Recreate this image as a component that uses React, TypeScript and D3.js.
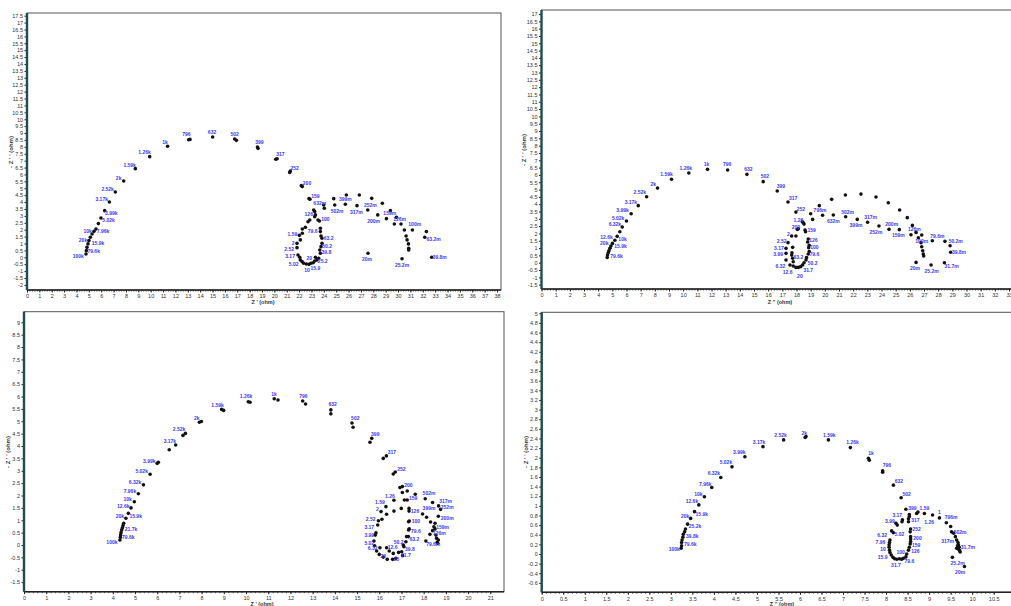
import React, { useRef, useEffect } from "react";
import { select, scaleLinear, axisBottom, axisLeft, range } from "d3";

// ---------- panel (a) top-left ----------
const aArc = [
  [4.77, 0.24], [4.8, 0.48], [4.85, 0.72], [4.93, 0.97], [5.01, 1.21], [5.12, 1.45], [5.26, 1.69],
  [5.42, 1.88], [5.58, 2.05], [5.77, 2.44], [5.98, 2.85], [6.28, 3.38], [6.66, 4.01], [7.14, 4.73],
  [7.82, 5.53], [8.76, 6.42], [9.92, 7.29], [11.37, 8.04], [13.07, 8.52], [13.18, 8.54], [15.01, 8.71],
  [16.79, 8.57], [16.93, 8.47], [18.63, 7.99], [18.68, 7.89], [20.11, 7.1], [20.22, 7.14], [21.24, 6.15],
  [21.29, 6.25], [22.18, 5.19], [22.26, 5.12], [22.8, 4.25], [22.88, 4.2],
];
const aLoop = [
  [23.18, 3.43], [23.26, 3.31], [23.32, 3.07], [23.26, 2.94], [23.53, 2.7], [23.64, 2.63], [23.72, 2.1],
  [23.72, 1.86], [23.77, 1.54], [23.85, 1.38], [23.85, 1.01], [23.77, 0.77], [23.67, 0.53], [23.72, 0.29],
  [23.58, -0.07], [23.45, -0.19], [23.32, 0.0], [23.26, -0.27], [23.13, -0.39], [22.96, -0.43], [22.8, -0.51],
  [22.59, -0.48], [22.37, -0.43], [22.24, -0.31], [22.1, -0.19], [22.05, 0.0], [21.91, 0.17], [21.83, 0.7],
  [21.83, 1.01], [22.1, 1.26], [22.02, 1.59], [22.26, 1.74], [22.26, 2.05], [22.51, 2.17], [22.72, 2.58],
  [22.86, 2.7], [23.99, 3.79], [24.04, 3.55],
];
const aTail = [
  [24.8, 4.25], [24.88, 3.79], [25.74, 3.84], [25.82, 4.51], [26.68, 3.74], [26.87, 4.51], [27.55, 3.43],
  [27.87, 4.27], [28.36, 3.07], [28.73, 3.91], [29.06, 2.8], [29.38, 3.38], [29.7, 2.41], [29.87, 2.9],
  [30.24, 2.41], [30.51, 1.98], [30.65, 1.54], [30.73, 1.26], [30.84, 0.97], [30.86, 0.65], [30.86, 0.53],
  [31.16, 1.98], [32.29, 1.86], [32.16, 1.45], [32.72, 0.0], [27.57, 0.29], [30.32, -0.1],
];
const aTags = [
  ["100k", 4.15, 0.05], ["79.6k", 5.39, 0.41], ["15.9k", 5.74, 1.01], ["20k", 4.53, 1.26], ["10k", 4.91, 1.88],
  ["7.96k", 6.15, 1.88], ["5.02k", 6.6, 2.68], ["3.99k", 6.82, 3.19], ["3.17k", 6.04, 4.2], ["2.52k", 6.52, 4.9],
  ["2k", 7.41, 5.72], ["1.59k", 8.3, 6.66], ["1.26k", 9.51, 7.58], ["1k", 11.16, 8.33], ["796", 12.88, 8.91],
  ["632", 14.96, 9.05], ["502", 16.79, 8.91], ["399", 18.79, 8.33], ["317", 20.49, 7.46], ["252", 21.64, 6.44],
  ["200", 22.64, 5.36], ["159", 23.32, 4.39], ["632m", 23.67, 3.91], ["126", 22.78, 3.11], ["100", 24.12, 2.75],
  ["79.6", 23.1, 1.91], ["63.2", 24.39, 1.38], ["50.2", 24.26, 0.77], ["39.8", 24.2, 0.36], ["25.2", 23.91, -0.31],
  ["20", 22.83, -0.07], ["15.9", 23.32, -0.8], ["10", 22.64, -0.92], ["5.02", 21.56, -0.51], ["3.17", 21.27, 0.05],
  ["2.52", 21.19, 0.58], ["2", 21.51, 1.01], ["1.59", 21.46, 1.67], ["502m", 25.07, 3.31], ["399m", 25.74, 4.2],
  ["317m", 26.63, 3.26], ["252m", 27.76, 3.79], ["200m", 28.03, 2.61], ["159m", 29.33, 3.19], ["126m", 30.13, 2.75],
  ["100m", 31.35, 2.39], ["63.2m", 32.88, 1.3], ["39.8m", 33.37, -0.02], ["20m", 27.49, -0.14], ["25.2m", 30.32, -0.6],
];

// ---------- panel (b) top-right ----------
const bArc = [
  [4.64, 0.36], [4.66, 0.52], [4.71, 0.68], [4.76, 0.82], [4.83, 0.98], [4.9, 1.14], [5.01, 1.32],
  [5.18, 1.53], [5.34, 1.8], [5.53, 2.12], [5.7, 2.44], [6.0, 2.85], [6.33, 3.35], [6.83, 3.9],
  [7.42, 4.51], [8.19, 5.1], [9.18, 5.7], [10.4, 6.13], [11.72, 6.38], [13.14, 6.34], [14.5, 6.04],
  [15.65, 5.54], [16.64, 4.9], [17.4, 4.15], [17.96, 3.46],
];
const bLoop = [
  [18.41, 2.8], [18.48, 2.73], [18.53, 2.64], [19.14, 2.96], [18.06, 2.28], [18.13, 2.32], [18.6, 2.23],
  [18.64, 2.12], [17.66, 1.82], [17.96, 1.82], [18.83, 1.62], [18.79, 1.41], [17.4, 1.37], [18.9, 1.19],
  [18.86, 1.03], [17.73, 1.05], [17.26, 0.98], [18.9, 0.77], [18.83, 0.59], [17.68, 0.68], [17.66, 0.52],
  [17.26, 0.64], [18.71, 0.36], [18.67, 0.18], [17.73, 0.3], [17.77, 0.07], [17.26, 0.18], [18.53, 0.0],
  [18.43, -0.16], [17.54, -0.16], [17.77, -0.23], [17.96, -0.32], [18.13, -0.32], [18.29, -0.27],
];
const bTail = [
  [19.0, 3.35], [19.61, 3.9], [20.48, 4.33], [21.45, 4.63], [22.55, 4.69], [23.61, 4.49], [24.48, 4.1],
  [25.28, 3.6], [25.82, 3.08], [26.18, 2.55], [26.44, 2.07], [26.6, 1.71], [26.79, 1.37], [26.84, 1.09],
  [26.91, 0.82], [26.95, 0.59], [26.98, 0.46], [19.84, 3.24], [20.6, 3.26], [21.47, 3.14], [22.29, 2.96],
  [23.02, 2.76], [23.82, 2.51], [24.53, 2.28], [25.26, 2.26], [26.08, 1.91], [26.84, 1.89], [27.59, 1.5],
  [28.48, 1.46], [28.84, 1.16], [28.88, 0.71], [28.44, 0.0], [27.5, -0.16], [26.44, 0.02],
];
const bTags = [
  ["79.6k", 5.3, 0.46], ["15.9k", 5.58, 1.14], ["20k", 4.43, 1.32], ["10k", 5.72, 1.62], ["12.6k", 4.59, 1.73],
  ["6.32k", 5.18, 2.62], ["5.02k", 5.41, 3.03], ["3.99k", 5.72, 3.6], ["3.17k", 6.31, 4.12], ["2.52k", 6.94, 4.81],
  ["2k", 7.89, 5.38], ["1.59k", 8.83, 6.06], ["1.26k", 10.19, 6.47], ["1k", 11.65, 6.75], ["796", 13.11, 6.75],
  ["632", 14.6, 6.4], ["502", 15.77, 5.93], ["399", 16.9, 5.24], ["317", 17.77, 4.42], ["252", 18.31, 3.65],
  ["1.26", 18.13, 2.89], ["200", 17.96, 2.42], ["2", 17.42, 1.94], ["2.52", 16.95, 1.48], ["3.17", 16.76, 0.98],
  ["3.99", 16.71, 0.57], ["6.32", 16.86, -0.21], ["12.6", 17.37, -0.68], ["20", 18.24, -0.91], ["31.7", 18.83, -0.5],
  ["50.2", 19.14, -0.05], ["79.6", 19.26, 0.57], ["100", 19.26, 1.03], ["126", 19.19, 1.53], ["159", 19.07, 2.23],
  ["63.2", 18.13, 0.34], ["796m", 19.66, 3.58], ["632m", 20.6, 2.85], ["502m", 21.61, 3.44], ["399m", 22.2, 2.55],
  ["317m", 23.23, 3.1], ["252m", 23.61, 2.07], ["200m", 24.72, 2.62], ["159m", 25.19, 1.87], ["126m", 26.32, 2.28],
  ["100m", 26.84, 1.48], ["79.6m", 27.94, 1.82], ["50.2m", 29.24, 1.48], ["39.8m", 29.47, 0.71], ["31.7m", 28.95, -0.23],
  ["25.2m", 27.54, -0.57], ["20m", 26.37, -0.39],
];

// ---------- panel (c) bottom-left ----------
const cArc = [
  [4.32, 0.2], [4.34, 0.31], [4.35, 0.4], [4.37, 0.5], [4.4, 0.61], [4.43, 0.7], [4.46, 0.79], [4.49, 0.88],
  [4.59, 1.08], [4.7, 1.28], [4.82, 1.5], [4.97, 1.75], [5.15, 2.07], [5.38, 2.43], [5.68, 2.86], [6.0, 3.3],
  [6.05, 3.34], [6.54, 3.85], [6.83, 4.04], [7.16, 4.43], [7.27, 4.51], [7.9, 4.96], [7.99, 4.99], [8.9, 5.48],
  [8.99, 5.44], [10.1, 5.79], [10.18, 5.77], [11.27, 5.91], [11.44, 5.86], [12.55, 5.82], [12.68, 5.7],
  [13.82, 5.46], [13.82, 5.3], [14.77, 4.93], [14.82, 4.76], [15.58, 4.15], [15.66, 4.31], [16.18, 3.5],
  [16.32, 3.6], [16.63, 2.87], [16.72, 2.95], [16.93, 2.32], [17.04, 2.36],
];
const cLoop = [
  [17.26, 2.18], [17.04, 2.12], [16.66, 1.81], [17.13, 1.82], [17.26, 1.82], [16.3, 1.55], [16.99, 1.48],
  [17.34, 1.48], [17.34, 1.37], [16.08, 1.35], [16.66, 1.37], [16.33, 1.24], [16.12, 1.04], [15.96, 0.98],
  [17.35, 0.97], [17.32, 0.94], [15.93, 0.81], [17.35, 0.65], [17.32, 0.61], [15.85, 0.49], [15.82, 0.4],
  [17.23, 0.34], [17.31, 0.34], [15.76, 0.16], [17.2, 0.13], [15.79, -0.03], [17.08, 0.0], [17.11, -0.07],
  [16.03, -0.11], [15.88, -0.24], [16.33, -0.11], [16.45, -0.24], [16.0, -0.38], [16.18, -0.49], [16.36, -0.58],
  [16.6, -0.58], [16.75, -0.54], [16.63, -0.34], [16.87, -0.3], [17.01, -0.27], [17.05, -0.43],
];
const cTail = [
  [17.62, 2.05], [18.07, 1.87], [18.4, 1.72], [18.67, 1.58], [18.76, 1.44], [17.95, 1.25], [18.13, 1.12],
  [18.66, 1.16], [18.31, 0.93], [18.51, 0.88], [18.46, 0.74], [18.4, 0.58], [18.51, 0.65], [18.28, 0.43],
  [18.55, 0.4], [18.58, 0.27], [18.61, 0.11], [18.63, 0.07], [18.1, 0.16], [18.66, 0.2],
];
const cTags = [
  ["100k", 3.96, 0.13], ["79.6k", 4.7, 0.31], ["21.7k", 4.82, 0.63], ["20k", 4.32, 1.15], ["15.9k", 5.03, 1.16],
  ["12.6k", 4.47, 1.55], ["10k", 4.67, 1.85], ["7.96k", 4.77, 2.18], ["6.32k", 5.0, 2.53], ["5.02k", 5.3, 2.99],
  ["3.99k", 5.64, 3.4], ["3.17k", 6.57, 4.19], ["2.52k", 6.98, 4.68], ["2k", 7.78, 5.12], ["1.59k", 8.72, 5.66],
  ["1.26k", 10.0, 6.02], ["1k", 11.26, 6.09], ["796", 12.58, 6.02], ["632", 13.9, 5.69], ["502", 14.92, 5.12],
  ["399", 15.82, 4.47], ["317", 16.57, 3.76], ["252", 17.0, 3.06], ["200", 17.31, 2.43], ["159", 17.53, 1.89],
  ["1.26", 16.48, 1.95], ["1.59", 16.03, 1.72], ["2", 15.91, 1.44], ["126", 17.61, 1.35], ["2.52", 15.61, 1.04],
  ["100", 17.65, 0.94], ["3.17", 15.55, 0.71], ["79.6", 17.65, 0.54], ["3.99", 15.55, 0.4], ["63.2", 17.58, 0.23],
  ["50.2", 16.87, 0.13], ["5.02", 15.55, 0.09], ["6.32", 15.7, -0.15], ["12.6", 16.6, -0.09], ["39.8", 17.38, -0.18],
  ["31.7", 17.2, -0.4], ["20", 16.18, -0.44], ["25", 16.78, -0.58], ["502m", 18.24, 2.09], ["317m", 18.99, 1.78],
  ["399m", 18.24, 1.48], ["252m", 19.06, 1.52], ["200m", 19.06, 1.08], ["159m", 18.85, 0.71], ["126m", 18.7, 0.47],
  ["79.6m", 18.43, 0.03],
];

// ---------- panel (d) bottom-right ----------
const dArc = [
  [3.24, 0.12], [3.25, 0.17], [3.25, 0.24], [3.26, 0.29], [3.28, 0.35], [3.29, 0.41], [3.32, 0.46],
  [3.34, 0.52], [3.39, 0.62], [3.46, 0.74], [3.55, 0.88], [3.65, 1.02], [3.78, 1.19], [3.95, 1.38],
  [4.16, 1.59], [4.42, 1.81], [4.72, 2.02], [5.14, 2.23], [5.62, 2.37], [6.12, 2.42], [6.14, 2.44],
  [6.66, 2.37], [7.17, 2.21], [7.59, 1.99], [7.61, 1.95], [7.92, 1.73], [7.92, 1.7], [8.17, 1.43], [8.35, 1.17],
];
const dLoop = [
  [8.46, 0.93], [8.54, 0.82], [8.54, 0.78], [8.52, 0.73], [8.52, 0.67], [8.38, 0.71], [8.37, 0.67],
  [8.23, 0.64], [8.26, 0.6], [8.57, 0.52], [8.56, 0.46], [8.13, 0.48], [8.17, 0.44], [8.57, 0.36],
  [8.57, 0.31], [8.09, 0.29], [8.08, 0.24], [8.07, 0.19], [8.07, 0.14], [8.08, 0.08], [8.09, 0.03],
  [8.12, -0.02], [8.16, -0.07], [8.2, -0.1], [8.25, -0.11], [8.31, -0.1], [8.36, -0.11], [8.4, -0.09],
  [8.46, -0.06], [8.48, 0.0], [8.52, 0.08], [8.54, 0.14], [8.56, 0.21], [8.57, 0.26],
];
const dTail = [
  [8.71, 0.84], [8.74, 0.87], [8.89, 0.84], [9.08, 0.81], [9.24, 0.75], [9.4, 0.65], [9.5, 0.57],
  [9.52, 0.46], [9.57, 0.43], [9.61, 0.36], [9.64, 0.29], [9.67, 0.24], [9.68, 0.19], [9.7, 0.14],
  [9.68, 0.1], [9.64, 0.12], [9.71, 0.07], [9.72, 0.04], [9.66, 0.17], [9.54, -0.07], [9.82, -0.26],
];
const dTags = [
  ["100k", 3.08, 0.1], ["79.6k", 3.45, 0.21], ["39.8k", 3.5, 0.37], ["25.2k", 3.56, 0.58], ["20k", 3.33, 0.79],
  ["15.9k", 3.72, 0.82], ["12.6k", 3.49, 1.09], ["10k", 3.64, 1.24], ["7.96k", 3.8, 1.45], ["6.32k", 4.0, 1.68],
  ["5.02k", 4.28, 1.9], ["3.99k", 4.59, 2.11], ["3.17k", 5.05, 2.32], ["2.52k", 5.55, 2.47], ["2k", 6.1, 2.51],
  ["1.59k", 6.68, 2.47], ["1.26k", 7.22, 2.33], ["1k", 7.65, 2.09], ["796", 8.02, 1.84], ["632", 8.3, 1.52],
  ["502", 8.48, 1.24], ["399", 8.61, 0.95], ["1.59", 8.89, 0.95], ["1", 9.24, 0.87], ["796m", 9.51, 0.76],
  ["1.26", 9.0, 0.66], ["317", 8.68, 0.71], ["252", 8.71, 0.52], ["200", 8.73, 0.33], ["159", 8.7, 0.19],
  ["126", 8.68, 0.06], ["100", 8.34, 0.03], ["79.6", 8.54, -0.15], ["31.7", 8.23, -0.23], ["15.9", 7.92, -0.07],
  ["10", 7.93, 0.1], ["7.96", 7.87, 0.24], ["6.32", 7.91, 0.39], ["5.02", 8.31, 0.41], ["3.99", 8.09, 0.67],
  ["3.17", 8.26, 0.8], ["502m", 9.72, 0.45], ["317m", 9.43, 0.26], ["31.7m", 9.9, 0.14], ["25.2m", 9.66, -0.19],
  ["20m", 9.72, -0.38],
];

// tick values
const aXTicks = range(0, 39);
const aYTicks = range(-4, 36).map((i) => i * 0.5);
const bXTicks = range(0, 34);
const bYTicks = range(-3, 35).map((i) => i * 0.5);
const cXTicks = range(0, 22);
const cYTicks = range(-3, 19).map((i) => i * 0.5);
const dXTicks = range(0, 22).map((i) => i * 0.5);
const dYTicks = range(-3, 26).map((i) => i * 0.2);

const FONT = "'Liberation Sans', Arial, sans-serif";
const fmt = (d) => String(Math.round(d * 10) / 10);

const Panel = ({ cfg }) => {
  const gRef = useRef();

  useEffect(() => {
    const g = select(gRef.current);
    g.selectAll("*").remove();

    const x = scaleLinear().domain([0, cfg.xEnd]).range([cfg.left, cfg.xEndPx]);
    const y = scaleLinear().domain([0, cfg.yEnd]).range([cfg.yZeroPx, cfg.yEndPx]);

    // frame
    g.append("rect")
      .attr("x", cfg.left)
      .attr("y", cfg.top)
      .attr("width", cfg.right - cfg.left)
      .attr("height", cfg.bottom - cfg.top)
      .attr("fill", "#fff")
      .attr("stroke", "#555")
      .attr("stroke-width", 1);

    // minor ticks on x
    const step = cfg.xTicks[1] - cfg.xTicks[0];
    const minor = range(0, Math.round(cfg.xEnd / step) * 5 + 1).map((i) => (i * step) / 5);
    g.append("g")
      .attr("transform", `translate(0,${cfg.bottom})`)
      .call(axisBottom(x).tickValues(minor).tickSize(1.5).tickFormat(() => ""))
      .call((s) => s.select(".domain").remove())
      .call((s) => s.selectAll("line").attr("stroke", "#333").attr("stroke-width", 0.8));

    // x axis
    g.append("g")
      .attr("transform", `translate(0,${cfg.bottom})`)
      .call(axisBottom(x).tickValues(cfg.xTicks).tickSize(2.5).tickPadding(1.8).tickFormat(fmt))
      .call((s) => s.select(".domain").remove())
      .call((s) => s.selectAll("line").attr("stroke", "#222"))
      .call((s) =>
        s.selectAll("text").attr("font-size", 5.5).attr("font-family", FONT).attr("fill", "#333")
      );

    // y axis
    g.append("g")
      .attr("transform", `translate(${cfg.left},0)`)
      .call(axisLeft(y).tickValues(cfg.yTicks).tickSize(2.5).tickPadding(1.5).tickFormat(fmt))
      .call((s) => s.select(".domain").remove())
      .call((s) => s.selectAll("line").attr("stroke", "#222"))
      .call((s) =>
        s.selectAll("text").attr("font-size", 5.5).attr("font-family", FONT).attr("fill", "#333")
      );

    // axis lines
    g.append("line")
      .attr("x1", cfg.left).attr("x2", cfg.right)
      .attr("y1", cfg.bottom).attr("y2", cfg.bottom)
      .attr("stroke", "#222").attr("stroke-width", 1.6);
    g.append("line")
      .attr("x1", cfg.left).attr("x2", cfg.left)
      .attr("y1", cfg.top).attr("y2", cfg.bottom)
      .attr("stroke", "#1e4d4b").attr("stroke-width", 2.4);

    // axis titles
    g.append("text")
      .attr("x", cfg.xTitlePos[0]).attr("y", cfg.xTitlePos[1])
      .attr("text-anchor", "middle")
      .attr("font-size", 5.5).attr("font-weight", "bold").attr("font-family", FONT).attr("fill", "#333")
      .text(cfg.xTitle);
    g.append("text")
      .attr("transform", `translate(${cfg.yTitlePos[0]},${cfg.yTitlePos[1]}) rotate(-90)`)
      .attr("text-anchor", "middle")
      .attr("font-size", 6).attr("font-weight", "bold").attr("font-family", FONT).attr("fill", "#333")
      .text("- Z ' ' (ohm)");

    // points
    g.append("g")
      .selectAll("circle")
      .data(cfg.pts)
      .join("circle")
      .attr("cx", (d) => x(d[0]))
      .attr("cy", (d) => y(d[1]))
      .attr("r", 1.8)
      .attr("fill", "#111");

    // frequency tags
    g.append("g")
      .selectAll("text")
      .data(cfg.tags)
      .join("text")
      .attr("x", (d) => x(d[1]))
      .attr("y", (d) => y(d[2]))
      .attr("dy", "0.35em")
      .attr("text-anchor", "middle")
      .attr("font-size", 5)
      .attr("font-weight", "bold")
      .attr("font-family", FONT)
      .attr("fill", "#3a3af5")
      .text((d) => d[0]);
  }, [cfg]);

  return <g ref={gRef} />;
};

const panels = [
  {
    left: 27, right: 501, top: 13, bottom: 290,
    xEnd: 38, xEndPx: 497, yEnd: 17.5, yZeroPx: 257.3, yEndPx: 15.7,
    xTicks: aXTicks, yTicks: aYTicks,
    xTitle: "Z ' (ohm)", xTitlePos: [263, 304], yTitlePos: [13, 152],
    pts: [...aArc, ...aLoop, ...aTail], tags: aTags,
  },
  {
    left: 541.5, right: 1013, top: 10, bottom: 289,
    xEnd: 33, xEndPx: 1009, yEnd: 17, yZeroPx: 262.7, yEndPx: 14,
    xTicks: bXTicks, yTicks: bYTicks,
    xTitle: "Z '' (ohm)", xTitlePos: [780, 304], yTitlePos: [526, 150],
    pts: [...bArc, ...bLoop, ...bTail], tags: bTags,
  },
  {
    left: 24, right: 504, top: 311.7, bottom: 591.7,
    xEnd: 21, xEndPx: 490.3, yEnd: 9, yZeroPx: 545, yEndPx: 322.3,
    xTicks: cXTicks, yTicks: cYTicks,
    xTitle: "Z ' (ohm)", xTitlePos: [262, 606], yTitlePos: [10, 452],
    pts: [...cArc, ...cLoop, ...cTail], tags: cTags,
  },
  {
    left: 541.7, right: 1013, top: 312.3, bottom: 592.3,
    xEnd: 10.5, xEndPx: 993.7, yEnd: 5, yZeroPx: 554, yEndPx: 313.3,
    xTicks: dXTicks, yTicks: dYTicks,
    xTitle: "Z '' (ohm)", xTitlePos: [782, 606], yTitlePos: [528, 452],
    pts: [...dArc, ...dLoop, ...dTail], tags: dTags,
  },
];

const App = () => {
  return (
    <svg
      width={1011}
      height={606}
      style={{ position: "absolute", left: 0, top: 0, background: "#fff" }}
    >
      {panels.map((p, i) => (
        <Panel key={i} cfg={p} />
      ))}
    </svg>
  );
};

export default App;
